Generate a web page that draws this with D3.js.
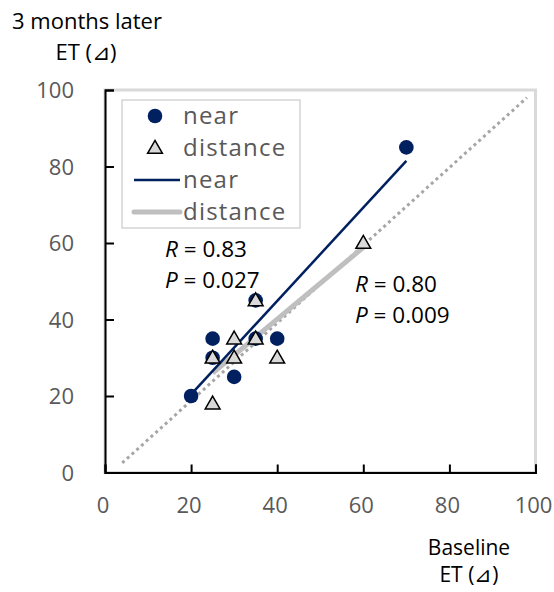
<!DOCTYPE html>
<html>
<head>
<meta charset="utf-8">
<script src="https://cdn.jsdelivr.net/npm/d3@7"></script>
<style>
  body { margin: 0; background: #fff; }
  svg { font-family: "Open Sans", sans-serif; }
</style>
</head>
<body>
<svg width="554" height="592"></svg>
<script>
// near vision, baseline vs 3 months later
var nearX = [20, 25, 25, 30, 35, 35, 40, 70];
var nearY = [20, 30, 35, 25, 35, 45, 35, 85];
// distance vision
var distX = [25, 25, 30, 30, 35, 35, 40, 60];
var distY = [18, 30, 30, 35, 35, 45, 30, 60];

var ticks = [0, 20, 40, 60, 80, 100];
var refLine = [4, 98]; // dotted y = x line

var legendLabels = ["near", "distance", "near", "distance"];
var nearStats = ["R = 0.83", "P = 0.027"];
var distStats = ["R = 0.80", "P = 0.009"];

var navy = "#002060",
    grey = "#bfbfbf";

var svg = d3.select("svg");

var x = d3.scaleLinear().domain([0, 100]).range([105, 535.5]);
var y = d3.scaleLinear().domain([0, 100]).range([472.5, 90]);

// light plot frame
svg.append("rect")
    .attr("x", x(0)).attr("y", y(100))
    .attr("width", x(100) - x(0)).attr("height", y(0) - y(100))
    .attr("fill", "none")
    .attr("stroke", "#d9d9d9")
    .attr("stroke-width", 3);

// axes, ticks pointing inward
var xAxis = d3.axisTop(x).tickValues(ticks).tickSize(8).tickFormat("");
var yAxis = d3.axisRight(y).tickValues(ticks).tickSize(9).tickFormat("");

svg.append("g").attr("transform", "translate(0," + y(0) + ")").call(xAxis)
    .call(function (g) { g.selectAll("path,line").attr("stroke", "#000").attr("stroke-width", 2); });
svg.append("g").attr("transform", "translate(" + x(0) + ",0)").call(yAxis)
    .call(function (g) { g.selectAll("path,line").attr("stroke", "#000").attr("stroke-width", 2); });

// tick labels
svg.selectAll(".xl").data(ticks).enter().append("text")
    .attr("x", function (d) { return x(d) - 2; })
    .attr("y", 513)
    .attr("text-anchor", "middle")
    .attr("fill", "#595959")
    .style("font-size", "22px")
    .text(function (d) { return d; });

svg.selectAll(".yl").data(ticks).enter().append("text")
    .attr("x", 74)
    .attr("y", function (d) { return y(d) + 8; })
    .attr("text-anchor", "end")
    .attr("fill", "#595959")
    .style("font-size", "22px")
    .text(function (d) { return d; });

// y = x reference line
svg.append("line")
    .attr("x1", x(refLine[0])).attr("y1", y(refLine[0] - 1.5))
    .attr("x2", x(refLine[1])).attr("y2", y(refLine[1]))
    .attr("stroke", "#a6a6a6")
    .attr("stroke-width", 3)
    .attr("stroke-dasharray", "3 3.4");

// least squares fit, drawn over the data x range
function fit(xs, ys) {
    var mx = d3.mean(xs), my = d3.mean(ys);
    var sxy = d3.sum(xs, function (v, i) { return (v - mx) * (ys[i] - my); });
    var sxx = d3.sum(xs, function (v) { return (v - mx) * (v - mx); });
    var b = sxy / sxx, a = my - b * mx;
    var ext = d3.extent(xs);
    return ext.map(function (v) { return [v, a + b * v]; });
}

var line = d3.line()
    .x(function (d) { return x(d[0]); })
    .y(function (d) { return y(d[1]); });

svg.append("path")
    .attr("d", line(fit(distX, distY)))
    .attr("stroke", grey)
    .attr("stroke-width", 5)
    .attr("fill", "none");

svg.append("path")
    .attr("d", line(fit(nearX, nearY)))
    .attr("stroke", navy)
    .attr("stroke-width", 2.5)
    .attr("fill", "none");

// near points
svg.selectAll(".near").data(nearX).enter().append("circle")
    .attr("cx", function (d) { return x(d); })
    .attr("cy", function (d, i) { return y(nearY[i]); })
    .attr("r", 7.3)
    .attr("fill", navy);

// distance points
var tri = d3.symbol().type(d3.symbolTriangle).size(95);
svg.selectAll(".dist").data(distX).enter().append("path")
    .attr("transform", function (d, i) { return "translate(" + x(d) + "," + (y(distY[i]) + 1) + ")"; })
    .attr("d", tri)
    .attr("fill", "#d9d9d9")
    .attr("stroke", "#000")
    .attr("stroke-width", 1.5);

// legend
var lg = svg.append("g");
lg.append("rect")
    .attr("x", 122).attr("y", 100)
    .attr("width", 178).attr("height", 128)
    .attr("fill", "#fff")
    .attr("stroke", "#bfbfbf")
    .attr("stroke-width", 1);

lg.append("circle").attr("cx", 155).attr("cy", 116).attr("r", 7.3).attr("fill", navy);
lg.append("path").attr("transform", "translate(155,149)").attr("d", tri)
    .attr("fill", "#d9d9d9").attr("stroke", "#000").attr("stroke-width", 1.5);
lg.append("line").attr("x1", 134).attr("x2", 180).attr("y1", 180).attr("y2", 180)
    .attr("stroke", navy).attr("stroke-width", 2.5);
lg.append("line").attr("x1", 134).attr("x2", 180).attr("y1", 212).attr("y2", 212)
    .attr("stroke", grey).attr("stroke-width", 5).attr("stroke-linecap", "round");

lg.selectAll("text").data(legendLabels).enter().append("text")
    .attr("x", 183)
    .attr("y", function (d, i) { return 124 + i * 32; })
    .attr("fill", "#595959")
    .style("font-size", "24px")
    .style("letter-spacing", "1.2px")
    .text(function (d) { return d; });

// R / P annotations
function stats(lines, x0, y0) {
    lines.forEach(function (s, i) {
        var t = svg.append("text")
            .attr("x", x0).attr("y", y0 + i * 31)
            .attr("fill", "#000")
            .style("font-size", "22.5px");
        t.append("tspan").style("font-style", "italic").text(s.charAt(0));
        t.append("tspan").text(s.slice(1));
    });
}
stats(nearStats, 165, 257);
stats(distStats, 355, 292);

// axis titles
var yt = svg.append("text").attr("text-anchor", "middle").attr("fill", "#000").style("font-size", "22px");
yt.append("tspan").attr("x", 87).attr("y", 29).text("3 months later");
yt.append("tspan").attr("x", 86).attr("y", 60).text("ET (⊿)");

var xt = svg.append("text").attr("text-anchor", "middle").attr("fill", "#000").style("font-size", "21px");
xt.append("tspan").attr("x", 469).attr("y", 555).text("Baseline");
xt.append("tspan").attr("x", 469).attr("y", 582).text("ET (⊿)");
</script>
</body>
</html>
